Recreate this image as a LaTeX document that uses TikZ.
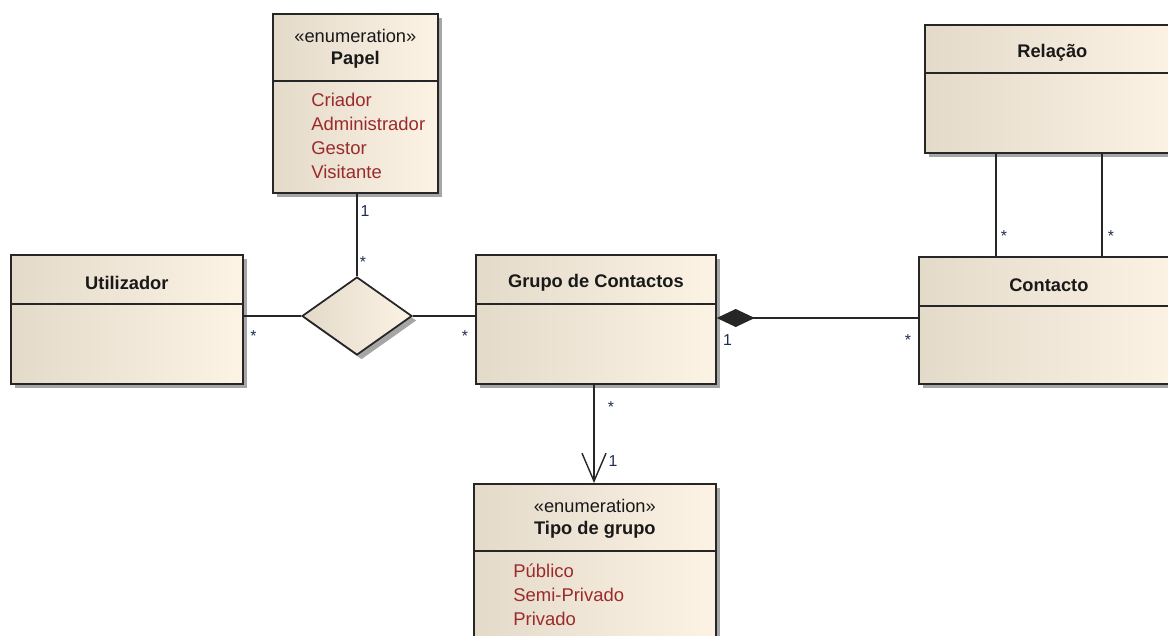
\documentclass[tikz,border=0pt]{standalone}
\usepackage{fontspec}
\setmainfont{Liberation Sans}
\usetikzlibrary{arrows.meta,shapes.geometric,shadows}

\definecolor{fundoesq}{HTML}{E4DACA}
\definecolor{fundodir}{HTML}{FCF3E5}
\definecolor{borda}{HTML}{262626}
\definecolor{literal}{HTML}{9A2B2B}
\definecolor{mult}{HTML}{1E2B52}

\tikzset{
  classe/.style={rectangle, draw=borda, line width=1pt, anchor=north west, inner sep=0pt,
    left color=fundoesq, right color=fundodir,
    drop shadow={shadow xshift=0.09cm, shadow yshift=-0.09cm, fill=black!35, opacity=1}},
  titulo/.style={font=\fontsize{10.4}{12.6}\selectfont\bfseries, text=black!90, align=center},
  literais/.style={anchor=north west, inner sep=0pt, align=left, text=literal,
    font=\fontsize{10.5}{13.6}\selectfont},
  divisor/.style={draw=borda, line width=1pt},
  linha/.style={draw=borda, line width=0.8pt},
  mult/.style={font=\fontsize{9}{10}\selectfont, text=mult, inner sep=0pt}
}

\begin{document}
\begin{tikzpicture}[x=0.02cm, y=-0.02cm]
\clip (0,0) rectangle (1168,635);

% classes
\node[classe, minimum width=3.3cm, minimum height=3.58cm] (papel) at (272,13) {};
\node[classe, minimum width=4.64cm, minimum height=2.58cm] (util) at (10,254) {};
\node[classe, minimum width=4.8cm, minimum height=2.58cm] (grupo) at (475,254) {};
\node[classe, minimum width=5.2cm, minimum height=2.54cm] (contacto) at (918,256) {};
\node[classe, minimum width=5.1cm, minimum height=2.56cm] (relacao) at (924,24) {};
\node[classe, minimum width=4.84cm, minimum height=3.4cm] (tipo) at (473,483) {};

\node[diamond, draw=borda, line width=1pt, inner sep=0pt, minimum width=2.2cm, minimum height=1.56cm,
  left color=fundoesq, right color=fundodir,
  drop shadow={shadow xshift=0.09cm, shadow yshift=-0.09cm, fill=black!35, opacity=1}] (assoc) at (357,316) {};

\draw[divisor] (papel.west |- 0,81) -- (papel.east |- 0,81);
\draw[divisor] (util.west |- 0,304) -- (util.east |- 0,304);
\draw[divisor] (grupo.west |- 0,304) -- (grupo.east |- 0,304);
\draw[divisor] (contacto.west |- 0,306) -- (contacto.east |- 0,306);
\draw[divisor] (relacao.west |- 0,73) -- (relacao.east |- 0,73);
\draw[divisor] (tipo.west |- 0,551) -- (tipo.east |- 0,551);

% nomes
\node[titulo] (papel-nome) at ([yshift=-0.71cm]papel.north) {{\mdseries «enumeration»}\\Papel};
\node[titulo] (util-nome) at ([yshift=-0.58cm]util.north) {Utilizador};
\node[titulo] (grupo-nome) at ([yshift=-0.58cm]grupo.north) {Grupo de Contactos};
\node[titulo] (contacto-nome) at ([yshift=-0.58cm]contacto.north) {Contacto};
\node[titulo] (relacao-nome) at ([yshift=-0.58cm]relacao.north) {Relação};
\node[titulo] (tipo-nome) at ([yshift=-0.71cm]tipo.north) {{\mdseries «enumeration»}\\Tipo de grupo};

\node[literais] (papel-lit) at (311,93) {Criador\\Administrador\\Gestor\\Visitante};
\node[literais] (tipo-lit) at (513,564) {Público\\Semi-Privado\\Privado};

% associacoes
\draw[linha] (assoc.north |- papel.south) -- node[mult, pos=0.21, xshift=0.16cm]{1}
  node[mult, pos=0.79, xshift=0.12cm, yshift=-0.06cm]{*} (assoc.north);
\draw[linha] (util.east |- assoc.west) -- node[mult, pos=0.17, yshift=-0.4cm]{*} (assoc.west);
\draw[linha] (assoc.east) -- node[mult, pos=0.84, yshift=-0.4cm]{*} (grupo.west |- assoc.east);
\draw[linha, {Diamond[length=0.76cm, width=0.36cm]}-] (grupo.east |- 0,318) --
  node[mult, pos=0.054, yshift=-0.44cm]{1} node[mult, pos=0.95, yshift=-0.44cm]{*} (contacto.west |- 0,318);
\draw[linha, -{Straight Barb[length=0.56cm, width=0.48cm, line width=0.8pt]}] (594,0 |- grupo.south) --
  node[mult, pos=0.2, xshift=0.34cm, yshift=-0.06cm]{*} node[mult, pos=0.78, xshift=0.38cm]{1} (594,0 |- tipo.north);
\draw[linha] (996,0 |- relacao.south) -- node[mult, pos=0.78, xshift=0.16cm, yshift=-0.06cm]{*} (996,0 |- contacto.north);
\draw[linha] (1102,0 |- relacao.south) -- node[mult, pos=0.78, xshift=0.18cm, yshift=-0.06cm]{*} (1102,0 |- contacto.north);
\end{tikzpicture}
\end{document}
